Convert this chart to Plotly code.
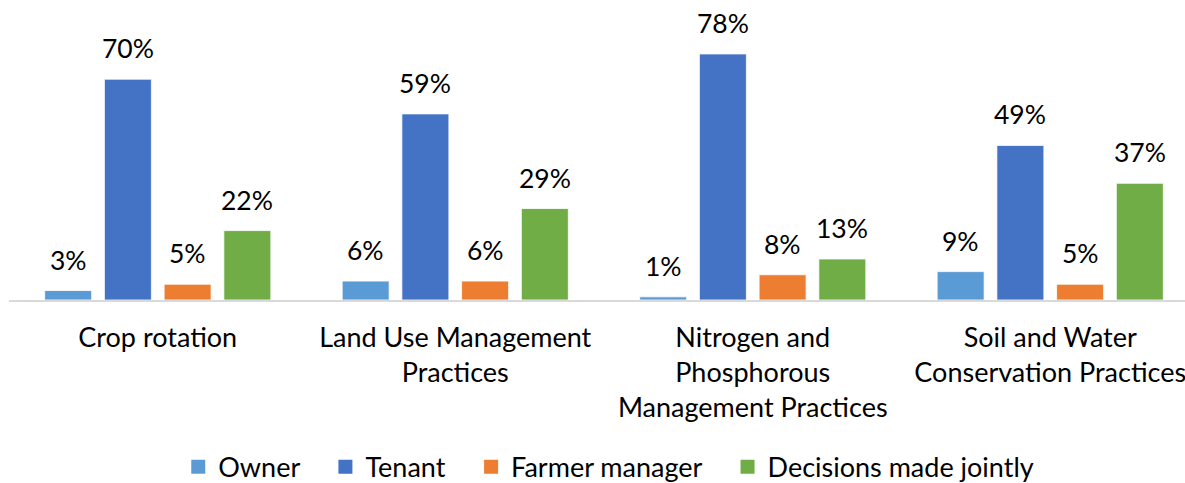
import plotly.graph_objects as go

categories = ["Crop rotation", "Land Use Management<br>Practices",
              "Nitrogen and<br>Phosphorous<br>Management Practices",
              "Soil and Water<br>Conservation Practices"]
series_names = ["Owner", "Tenant", "Farmer manager", "Decisions made jointly"]
owner = [3, 6, 1, 9]
tenant = [70, 59, 78, 49]
farmer_manager = [5, 6, 8, 5]
jointly = [22, 29, 13, 37]
colors = ["#5B9BD5", "#4472C4", "#ED7D31", "#70AD47"]

series_values = [owner, tenant, farmer_manager, jointly]
FONT = "Lato"
BARGAP = 0.197
GROUPGAP = 0.213
PAD = "\u00a0" * 3

fig = go.Figure()
for name, vals, col in zip(series_names, series_values, colors):
    fig.add_trace(go.Bar(x=categories, y=vals, name=name, showlegend=False,
                         marker=dict(color=col, line=dict(color="white", width=0.8))))
# legend entries with square swatches
for k, (name, col) in enumerate(zip(series_names, colors)):
    label = name + (PAD if k < len(series_names) - 1 else "")
    fig.add_trace(go.Scatter(x=[None], y=[None], mode="markers", name=label,
                             marker=dict(symbol="square", size=14, color=col)))

# value labels above bars
n = len(series_values)
slot = (1 - BARGAP) / n
for j, vals in enumerate(series_values):
    for i, v in enumerate(vals):
        fig.add_annotation(x=i + (j - (n - 1) / 2) * slot, y=v, xref="x", yref="y",
                           text=f"{v}%", showarrow=False, yshift=31,
                           font=dict(family=FONT, size=26.5, color="#000000"))

fig.update_layout(
    width=1185, height=483,
    margin=dict(l=9, r=0, t=0, b=183, autoexpand=False),
    paper_bgcolor="white", plot_bgcolor="white",
    barmode="group", bargap=BARGAP, bargroupgap=GROUPGAP,
    font=dict(family=FONT, size=26, color="#000000"),
    showlegend=True,
    legend=dict(orientation="h", x=0.51, xanchor="center", y=-0.557, yanchor="middle",
                font=dict(family=FONT, size=27), traceorder="normal",
                itemwidth=30, tracegroupgap=0),
    xaxis=dict(range=[-0.5, 3.453], showline=True, linecolor="#D9D9D9", linewidth=1.5,
               showgrid=False, ticks="", tickfont=dict(family=FONT, size=27),
               ticklabelstandoff=13, automargin=False),
    yaxis=dict(range=[0, 95.1], visible=False, showgrid=False, zeroline=False,
               automargin=False),
)

fig.write_html("out.html", config={"displayModeBar": False},
               post_script="document.body.style.margin='0';document.body.style.overflow='hidden';")
